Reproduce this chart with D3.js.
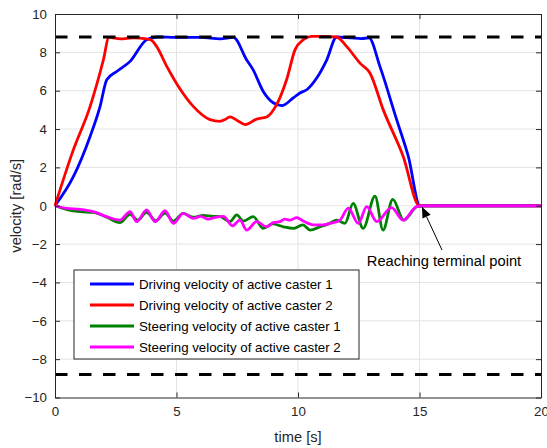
<!DOCTYPE html>
<html><head><meta charset="utf-8">
<script src="https://cdn.jsdelivr.net/npm/d3@7"></script>
<style>body{margin:0;background:#fff}svg{display:block}text{font-family:"Liberation Sans",Arial,sans-serif}</style>
</head><body><svg id="c" width="547" height="448"></svg>
<script>
// ---- data ----
const xTicks = [0, 5, 10, 15, 20];
const yTicks = [-10, -8, -6, -4, -2, 0, 2, 4, 6, 8, 10];
const limitValue = 8.8;

const tDrive1 = [0, 0.75, 1.44, 1.85, 2.13, 2.54, 3.09, 3.77, 4.2, 5, 6, 6.8, 7.34, 7.89, 8.15, 8.57, 8.98, 9.33, 9.8, 10.08, 10.36, 10.77, 11.18, 11.59, 12.2, 12.6, 12.92, 13.37, 14.06, 14.54, 15.02, 20];
const drive1   = [0, 1.5, 3.6, 5.16, 6.57, 7.0, 7.53, 8.66, 8.8, 8.78, 8.78, 8.7, 8.78, 7.6, 7.1, 5.96, 5.37, 5.22, 5.62, 5.88, 6.05, 6.66, 7.6, 8.8, 8.75, 8.72, 8.75, 7.27, 4.49, 2.57, 0, 0];

const tDrive2 = [0, 0.75, 1.44, 1.99, 2.22, 2.7, 3.2, 3.77, 3.95, 4.18, 4.6, 5.14, 5.69, 6.38, 6.79, 7.0, 7.2, 7.5, 7.82, 8.3, 8.71, 9.12, 9.53, 9.88, 10.22, 10.56, 11.0, 11.59, 12.0, 12.55, 12.96, 13.51, 14.33, 15.0, 20];
const drive2   = [0, 2.9, 5.16, 7.6, 8.78, 8.7, 8.76, 8.7, 8.65, 8.31, 7.27, 6.1, 5.18, 4.49, 4.4, 4.5, 4.63, 4.45, 4.23, 4.52, 4.63, 5.27, 6.57, 8.14, 8.66, 8.83, 8.83, 8.8, 8.31, 7.44, 6.92, 5.0, 2.57, 0, 0];

const tSteer1 = [0, 0.5, 1.03, 1.58, 2.13, 2.67, 3.09, 3.4, 3.77, 4.15, 4.53, 4.87, 5.28, 5.69, 6.1, 6.5, 6.79, 7.2, 7.48, 7.75, 8.16, 8.57, 8.95, 9.4, 9.8, 10.2, 10.5, 10.9, 11.3, 11.59, 11.93, 12.27, 12.68, 13.17, 13.5, 13.9, 14.35, 14.9, 15.2, 20];
const steer1   = [0, -0.2, -0.31, -0.35, -0.6, -0.88, -0.45, -0.75, -0.35, -0.78, -0.38, -0.8, -0.4, -0.6, -0.5, -0.55, -0.57, -0.83, -0.48, -0.8, -0.57, -1.18, -0.95, -1.1, -1.18, -1.0, -1.27, -1.1, -0.92, -0.75, -0.92, 0.12, -1.18, 0.5, -1.27, 0.33, -0.75, -0.05, 0, 0];

const tSteer2 = [0, 0.48, 1.03, 1.58, 2.13, 2.67, 3.09, 3.36, 3.77, 4.12, 4.53, 4.87, 5.28, 5.69, 6.0, 6.3, 6.6, 6.93, 7.3, 7.61, 7.89, 8.3, 8.71, 8.98, 9.26, 9.45, 9.67, 9.95, 10.22, 10.63, 11.0, 11.32, 11.73, 12.07, 12.48, 12.83, 13.24, 13.85, 14.33, 14.88, 15.2, 20];
const steer2   = [0, -0.14, -0.19, -0.31, -0.57, -0.75, -0.31, -0.83, -0.22, -0.83, -0.26, -0.92, -0.4, -0.66, -0.55, -0.7, -0.6, -0.55, -1.05, -0.75, -1.27, -0.83, -1.1, -0.88, -0.83, -0.7, -0.75, -0.62, -0.8, -1.0, -1.0, -0.92, -0.75, -0.12, -0.92, -0.05, -0.83, -0.1, -0.75, -0.05, 0, 0];

const seriesNames = ["Driving velocity of active caster 1", "Driving velocity of active caster 2", "Steering velocity of active caster 1", "Steering velocity of active caster 2"];
const seriesColors = ["#0000ff", "#ff0000", "#008000", "#ff00ff"];

// ---- layout ----
const svg = d3.select("#c");
const L = 55, R = 541, T = 14, B = 397.5;
const x = d3.scaleLinear().domain([0, 20]).range([L, R]);
const y = d3.scaleLinear().domain([-10, 10]).range([B, T]);
const axisColor = "#262626";

// grid
const g = svg.append("g");
g.selectAll(".gx").data(xTicks.slice(1, -1)).enter().append("line")
  .attr("x1", d => x(d)).attr("x2", d => x(d)).attr("y1", T).attr("y2", B)
  .attr("stroke", "#e3e3e3").attr("stroke-width", 1);
g.selectAll(".gy").data(yTicks.slice(1, -1)).enter().append("line")
  .attr("x1", L).attr("x2", R).attr("y1", d => y(d)).attr("y2", d => y(d))
  .attr("stroke", "#e3e3e3").attr("stroke-width", 1);

// series
const series = [[tDrive1, drive1], [tDrive2, drive2], [tSteer1, steer1], [tSteer2, steer2]];
const line = d3.line().x(d => x(d[0])).y(d => y(d[1])).curve(d3.curveMonotoneX);
series.forEach((s, i) => {
  const pts = s[0].map((t, k) => [t, s[1][k]]);
  svg.append("path").attr("d", line(pts)).attr("fill", "none")
    .attr("stroke", seriesColors[i]).attr("stroke-width", 2.8).attr("stroke-linejoin", "round");
});

// limit dashed lines
[limitValue, -limitValue].forEach(v => {
  svg.append("line").attr("x1", L).attr("x2", R).attr("y1", y(v)).attr("y2", y(v))
    .attr("stroke", "#000").attr("stroke-width", 2.8).attr("stroke-dasharray", "12.5,11.5");
});

// axes (box with inward ticks)
const axB = d3.axisBottom(x).tickValues(xTicks).tickSizeInner(-5).tickSizeOuter(0).tickPadding(9);
const axT = d3.axisTop(x).tickValues(xTicks).tickSizeInner(-5).tickSizeOuter(0).tickFormat("");
const axL = d3.axisLeft(y).tickValues(yTicks).tickSizeInner(-5).tickSizeOuter(0).tickPadding(8);
const axR = d3.axisRight(y).tickValues(yTicks).tickSizeInner(-5).tickSizeOuter(0).tickFormat("");
function style(sel) {
  sel.selectAll("path").attr("stroke", axisColor).attr("stroke-width", 1);
  sel.selectAll("line").attr("stroke", axisColor);
  sel.selectAll("text").attr("fill", axisColor).style("font-size", "13.3px").style("font-family", '"Liberation Sans",Arial,sans-serif');
}
style(svg.append("g").attr("transform", `translate(0,${B})`).call(axB));
style(svg.append("g").attr("transform", `translate(0,${T})`).call(axT));
style(svg.append("g").attr("transform", `translate(${L},0)`).call(axL));
style(svg.append("g").attr("transform", `translate(${R},0)`).call(axR));

// axis labels
svg.append("text").attr("x", (L + R) / 2).attr("y", 442).attr("text-anchor", "middle")
  .attr("fill", axisColor).style("font-size", "14.7px").text("time [s]");
svg.append("text").attr("transform", `translate(20.5,${(T + B) / 2}) rotate(-90)`).attr("text-anchor", "middle")
  .attr("fill", axisColor).style("font-size", "14.7px").text("velocity [rad/s]");

// legend
const lg = svg.append("g");
lg.append("rect").attr("x", 74).attr("y", 270).attr("width", 285).attr("height", 89)
  .attr("fill", "#fff").attr("stroke", "#262626").attr("stroke-width", 1);
seriesNames.forEach((n, i) => {
  const cy = 284 + i * 21;
  lg.append("line").attr("x1", 90).attr("x2", 134).attr("y1", cy).attr("y2", cy)
    .attr("stroke", seriesColors[i]).attr("stroke-width", 2.8);
  lg.append("text").attr("x", 139).attr("y", cy + 4.7).attr("fill", "#000")
    .style("font-size", "13.3px").text(n);
});

// annotation
const tip = [x(15.1), y(0) + 1];
const tail = [442, 250];
const ang = Math.atan2(tip[1] - tail[1], tip[0] - tail[0]);
const hl = 11, hw = 4.5;
const bx = tip[0] - hl * Math.cos(ang), by = tip[1] - hl * Math.sin(ang);
svg.append("line").attr("x1", tail[0]).attr("y1", tail[1]).attr("x2", bx).attr("y2", by)
  .attr("stroke", "#000").attr("stroke-width", 1);
svg.append("path").attr("d", `M${tip[0]},${tip[1]} L${bx + hw * Math.sin(ang)},${by - hw * Math.cos(ang)} L${bx - hw * Math.sin(ang)},${by + hw * Math.cos(ang)} Z`)
  .attr("fill", "#000");
svg.append("text").attr("x", 444).attr("y", 266).attr("text-anchor", "middle").attr("fill", "#000")
  .style("font-size", "14.7px").text("Reaching terminal point");
</script></body></html>
